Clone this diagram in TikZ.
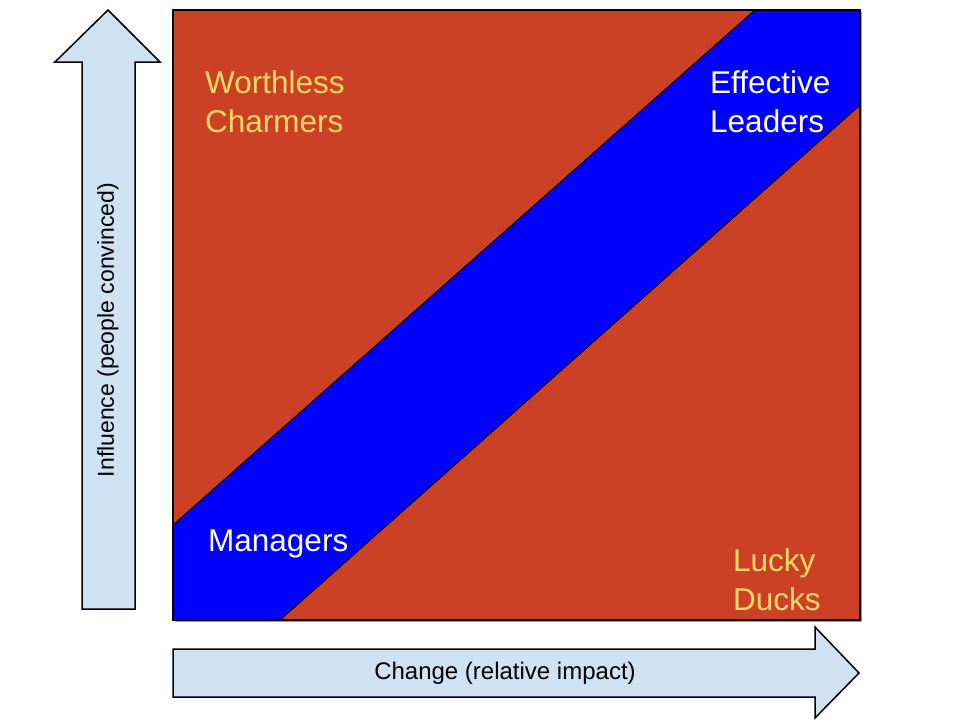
\documentclass[tikz,border=0pt]{standalone}
\usepackage{fontspec}
\setmainfont{Liberation Sans}
\usetikzlibrary{positioning}
\definecolor{cred}{HTML}{CC4125}
\definecolor{cblue}{HTML}{0000FF}
\definecolor{cgold}{HTML}{FFD966}
\definecolor{carrow}{HTML}{CFE2F3}

\begin{document}
\begin{tikzpicture}[
  x=1pt, y=-1pt,
  outline/.style={draw=black, line width=1.5pt, line join=miter},
  axisarrow/.style={outline, fill=carrow},
  quad/.style={font=\fontsize{31.5}{38.5}\selectfont, align=left, inner sep=0pt, anchor=base west},
  axislabel/.style={inner sep=0pt},
]
\useasboundingbox (0,0) rectangle (960,720);
% Square with shadow
\fill[black!40] (175,12) rectangle (862,622);
\fill[cred] (173,10) rectangle (860,620);
% Diagonal band
\filldraw[fill=cblue, draw=black, line width=1pt]
  (173,525) -- (755,10) -- (860,10) -- (860,105) -- (280,620) -- (173,620) -- cycle;
\draw[outline] (173,10) rectangle (860,620);
% Axis arrows
\draw[axisarrow] (82,609) -- (82,62) -- (55,62) -- (108,10) -- (160,62)
  -- (135,62) -- (135,609) -- cycle;
\draw[axisarrow] (173,649) -- (815,649) -- (815,627) -- (859,673) -- (815,718)
  -- (815,697) -- (173,697) -- cycle;
% Quadrant labels (anchored at the last line)
\node[quad, text=cgold] (charmers) at (205,132) {Worthless\\Charmers};
\node[quad, text=white] (leaders) at (710,132) {Effective\\Leaders};
\node[quad, text=white] (managers) at (208,551) {Managers};
\node[quad, text=cgold] (ducks) at (733,610) {Lucky\\Ducks};
% Axis labels
\node[axislabel, font=\fontsize{24}{28}\selectfont] (change) at (505,673) {Change (relative impact)};
\node[axislabel, font=\fontsize{23}{27}\selectfont, rotate=90] (influence) at (108,330)
  {Influence (people convinced)};
\end{tikzpicture}
\end{document}
